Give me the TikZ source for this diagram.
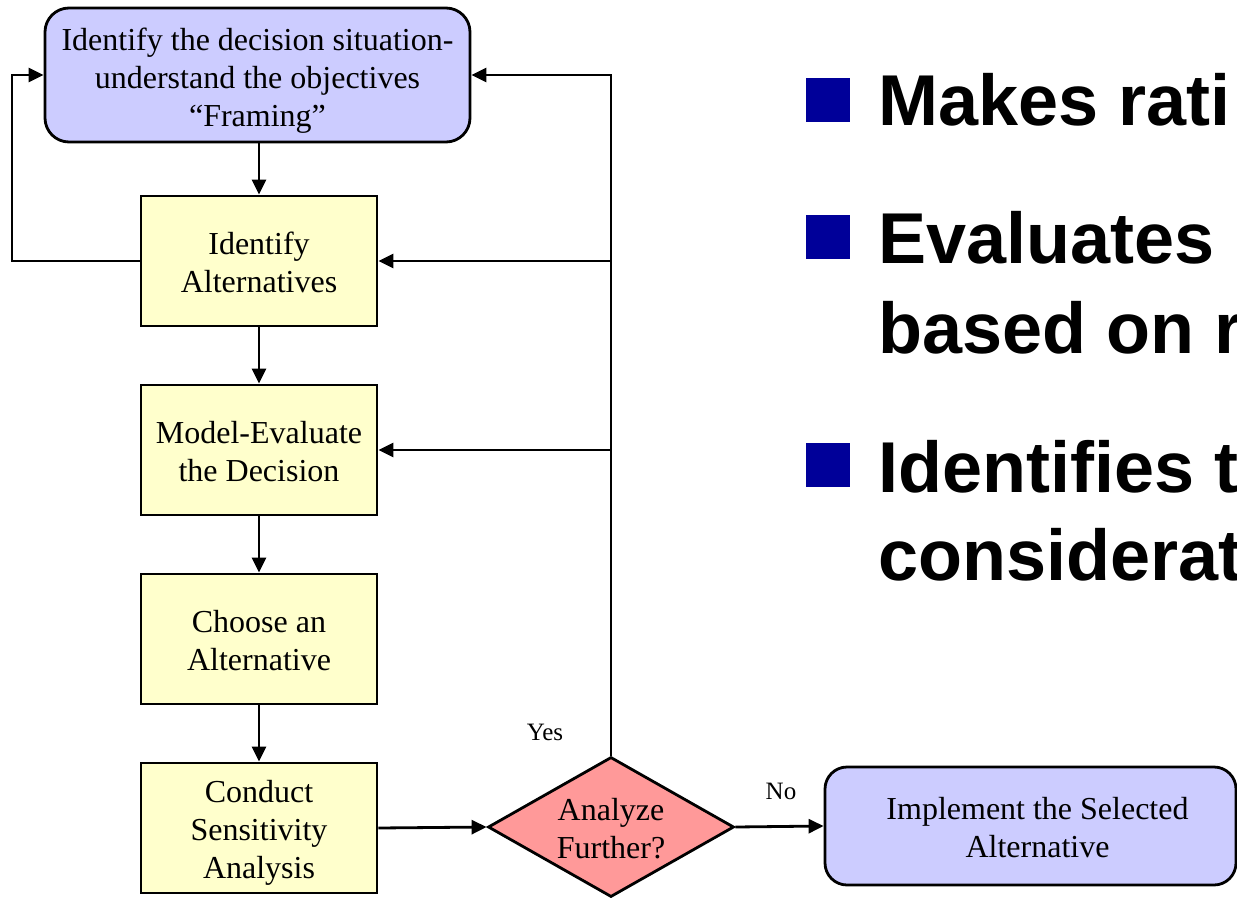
\documentclass[tikz,border=0pt]{standalone}
\usepackage{fontspec}
\setmainfont{Liberation Serif}
\setsansfont{Liberation Sans}
\usetikzlibrary{arrows.meta,shapes.geometric}
\definecolor{lav}{HTML}{CCCCFF}
\definecolor{pale}{HTML}{FFFFCC}
\definecolor{rose}{HTML}{FF9999}
\definecolor{navy}{HTML}{000099}
\newcommand{\dn}[1]{\rule{0pt}{#1}}
\tikzset{
  base/.style={draw=black, line width=2.8pt, inner sep=0pt, align=center,
    font=\fontsize{32}{38}\selectfont},
  framebox/.style={base, rectangle, rounded corners=24pt, fill=lav},
  stepbox/.style={base, rectangle, fill=pale, minimum width=236pt, minimum height=130pt},
  decbox/.style={base, diamond, fill=rose, minimum width=246pt, minimum height=140pt, aspect=1.757},
  arr/.style={draw=black, line width=2.8pt, -{Triangle[length=15pt,width=14pt]}},
  lbl/.style={font=\fontsize{25}{30}\selectfont, inner sep=0pt},
  bullet/.style={fill=navy, draw=none, minimum size=44pt, inner sep=0pt},
  big/.style={font=\sffamily\bfseries\fontsize{72}{90}\selectfont, inner sep=0pt, anchor=base west, align=left}
}
\begin{document}
\begin{tikzpicture}[x=1pt,y=-1pt]
\useasboundingbox (0,0) rectangle (1237,897);
\clip (0,0) rectangle (1237,897);
\fill[white] (0,0) rectangle (1237,897);

% nodes
\node[framebox, minimum width=425pt, minimum height=134pt] (top) at (257.5,75)
  {\dn{33pt}Identify the decision situation-\\understand the objectives\\``Framing''};
\node[stepbox] (a1) at (259,261) {\dn{25pt}Identify\\Alternatives};
\node[stepbox] (a2) at (259,450) {\dn{26pt}Model-Evaluate\\the Decision};
\node[stepbox] (a3) at (259,639) {\dn{26pt}Choose an\\Alternative};
\node[stepbox] (a4) at (259,828) {\dn{32pt}Conduct\\Sensitivity\\Analysis};
\node[decbox] (dec) at (611,827) {\dn{26pt}Analyze\\Further?};
\node[framebox, rounded corners=22pt, minimum width=411pt, minimum height=118pt] (impl) at (1030.5,826)
  {\dn{26pt}\hspace*{14pt}Implement the Selected\\\hspace*{14pt}Alternative};

\node[lbl] (yes) at (545,732) {Yes};
\node[lbl] (no) at (781,791) {No};

% connectors
\draw[arr] (a1.north |- top.south) -- (a1.north);
\draw[arr] (a1.south) -- (a2.north);
\draw[arr] (a2.south) -- (a3.north);
\draw[arr] (a3.south) -- (a4.north);
\draw[arr] (a4.east) -- (dec.west);
\draw[arr] (dec.east) -- (impl.west);
\coordinate (lft) at (12,261);
\draw[arr] (a1.west) -- (lft) |- (top.west);
\draw[arr] (dec.north) -- (dec.north |- top.east) -- (top.east);
\draw[arr] (dec.north |- a1.east) -- (a1.east);
\draw[arr] (dec.north |- a2.east) -- (a2.east);

% bullets
\node[bullet] (b1) at (828,100) {};
\node[bullet] (b2) at (828,237) {};
\node[bullet] (b3) at (828,465) {};
\node[big] (t1) at (878,125) {Makes rati};
\node[big] (t2) at (878,263) {Evaluates};
\node[big] (t2b) at (878,353) {based on r};
\node[big] (t3) at (878,492) {Identifies t};
\node[big] (t3b) at (878,580) {considerat};
\end{tikzpicture}
\end{document}
